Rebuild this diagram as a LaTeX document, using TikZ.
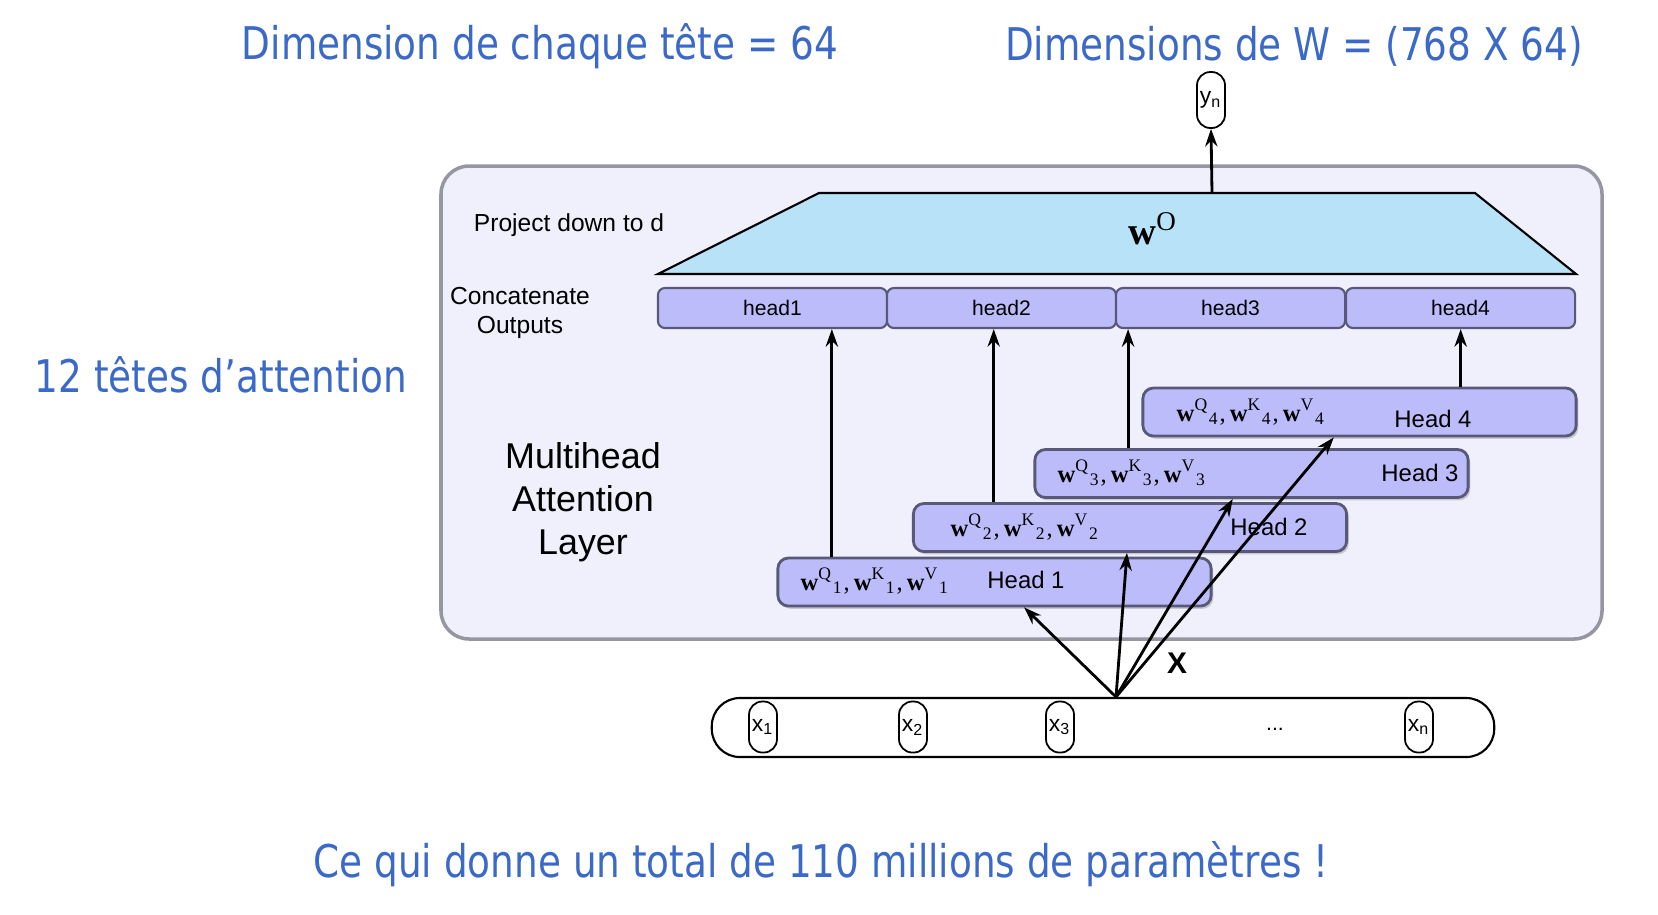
\documentclass[tikz,border=0pt]{standalone}
\usepackage{fontspec}
\setmainfont{Liberation Sans}
\newfontfamily\titlefont[FakeStretch=0.83]{DejaVu Sans}
\newfontfamily\wserif{Liberation Serif}
\usetikzlibrary{arrows.meta,calc,shadows}

\definecolor{titleblue}{RGB}{59,105,200}
\definecolor{layerbg}{RGB}{240,240,252}
\definecolor{layeredge}{RGB}{150,150,162}
\definecolor{projblue}{RGB}{184,226,248}
\definecolor{headfill}{RGB}{188,188,250}
\definecolor{headedge}{RGB}{88,88,120}

% poids Q, K, V d'une tete
\newcommand{\wqkv}[1]{\textbf{w}\textsuperscript{Q}\textsubscript{#1},\,\textbf{w}\textsuperscript{K}\textsubscript{#1},\,\textbf{w}\textsuperscript{V}\textsubscript{#1}}

\tikzset{
  bluetext/.style={text=titleblue, inner sep=0pt, font=\titlefont\fontsize{12.8}{15}\selectfont},
  catbox/.style={draw=headedge, line width=0.6pt, fill=headfill, rounded corners=2pt, minimum width=2.29cm, minimum height=0.40cm, inner sep=0pt, font=\fontsize{6}{7}\selectfont},
  headbox/.style={draw=headedge, line width=0.8pt, fill=headfill, rounded corners=3pt, minimum width=4.33cm, minimum height=0.48cm, inner sep=0pt, drop shadow={shadow xshift=0.6pt, shadow yshift=-0.8pt, opacity=0.35}},
  tokbox/.style={draw, line width=0.5pt, fill=white, rounded corners=3.8pt, minimum width=0.28cm, minimum height=0.51cm, inner sep=0pt, font=\fontsize{6.5}{7}\selectfont},
  wlabel/.style={anchor=west, inner sep=0pt, font=\wserif\fontsize{7}{8}\selectfont},
  hlabel/.style={inner sep=0pt, font=\fontsize{6.8}{8}\selectfont},
  arr/.style={line width=0.8pt, -{Stealth[length=5pt,width=3.5pt]}},
}

\begin{document}
\begin{tikzpicture}[x=0.01cm,y=-0.01cm]
\useasboundingbox (0,0) rectangle (1658,914);

% textes
\node[bluetext] (t1) at (540,46) {Dimension de chaque tête = 64};
\node[bluetext] (t2) at (1294,46) {Dimensions de W = (768 X 64)};
\node[bluetext] (t3) at (221,375) {12 têtes d’attention};
\node[bluetext] (t4) at (821,864) {Ce qui donne un total de 110 millions de paramètres !};

% couche
\draw[layeredge, line width=1pt, fill=layerbg, rounded corners=8pt] (441,166) rectangle (1602,639);
\draw[line width=0.6pt, fill=projblue] (658,274) -- (819,193) -- (1475,193) -- (1576,274) -- cycle;
\node[font=\wserif\fontsize{11}{13}\selectfont] (wo) at (1153,229) {\textbf{w}\textsuperscript{O}};
\node[font=\fontsize{7}{8}\selectfont] (proj) at (569,225) {Project down to d};
\node[font=\fontsize{7}{8}\selectfont, align=center] (concat) at (520,313) {Concatenate\\Outputs};
\node[font=\fontsize{10.2}{12.3}\selectfont, align=center] (mha) at (583,502) {Multihead\\Attention\\Layer};

\node[catbox] (hd1) at (772.5,308) {head1};
\node[catbox] (hd2) at (1001.5,308) {head2};
\node[catbox] (hd3) at (1230.5,308) {head3};
\node[catbox] (hd4) at (1460.5,308) {head4};

% tetes
\node[headbox] (H1) at (994.5,582) {};
\node[headbox] (H2) at (1130,527.5) {};
\node[headbox] (H3) at (1251.5,473.5) {};
\node[headbox] (H4) at (1359.5,412) {};
\node[wlabel] (w1) at (800,581) {\wqkv{1}};
\node[wlabel] (w2) at (950,527) {\wqkv{2}};
\node[wlabel] (w3) at (1057,473) {\wqkv{3}};
\node[wlabel] (w4) at (1176,412) {\wqkv{4}};
\node[hlabel] (n1) at (1026,580) {Head 1};
\node[hlabel] (n2) at (1269,527) {Head 2};
\node[hlabel] (n3) at (1420,473) {Head 3};
\node[hlabel] (n4) at (1433,419) {Head 4};

\draw[arr] ($(H1.north west)!0.127!(H1.north east)$) coordinate (v1) -- (v1 |- hd1.south);
\draw[arr] ($(H2.north west)!0.1875!(H2.north east)$) coordinate (v2) -- (v2 |- hd2.south);
\draw[arr] ($(H3.north west)!0.217!(H3.north east)$) coordinate (v3) -- (v3 |- hd3.south);
\draw[arr] ($(H4.north west)!0.732!(H4.north east)$) coordinate (v4) -- (v4 |- hd4.south);

% entree
\node[draw, line width=0.6pt, rounded corners=8pt, minimum width=7.82cm, minimum height=0.59cm] (inp) at (1103,727.5) {};
\node[tokbox] (x1) at (763,727) {x\textsubscript{1}};
\node[tokbox] (x2) at (913,727) {x\textsubscript{2}};
\node[tokbox] (x3) at (1060,727) {x\textsubscript{3}};
\node[font=\fontsize{6}{7}\selectfont] (dots) at (1275,729) {...};
\node[tokbox] (xn) at (1419,727) {x\textsubscript{n}};
\node[font=\bfseries\fontsize{8.5}{10}\selectfont] (xlab) at (1177,663) {X};

\coordinate (xin) at ($(inp.north)+(13,0)$);
\draw[arr] (xin) -- ($(H1.south west)!0.568!(H1.south east)$);
\draw[arr] (xin) -- ($(H2.south west)!0.493!(H2.south east)$);
\draw[arr] (xin) -- ($(H3.south west)!0.457!(H3.south east)$);
\draw[arr] (xin) -- ($(H4.south west)!0.441!(H4.south east)$);

% sortie
\node[tokbox, minimum height=0.56cm] (yn) at (1211,100) {y\textsubscript{n}};
\coordinate (wtop) at (1212,193);
\draw[arr] (wtop) -- (yn.south);
\end{tikzpicture}
\end{document}
